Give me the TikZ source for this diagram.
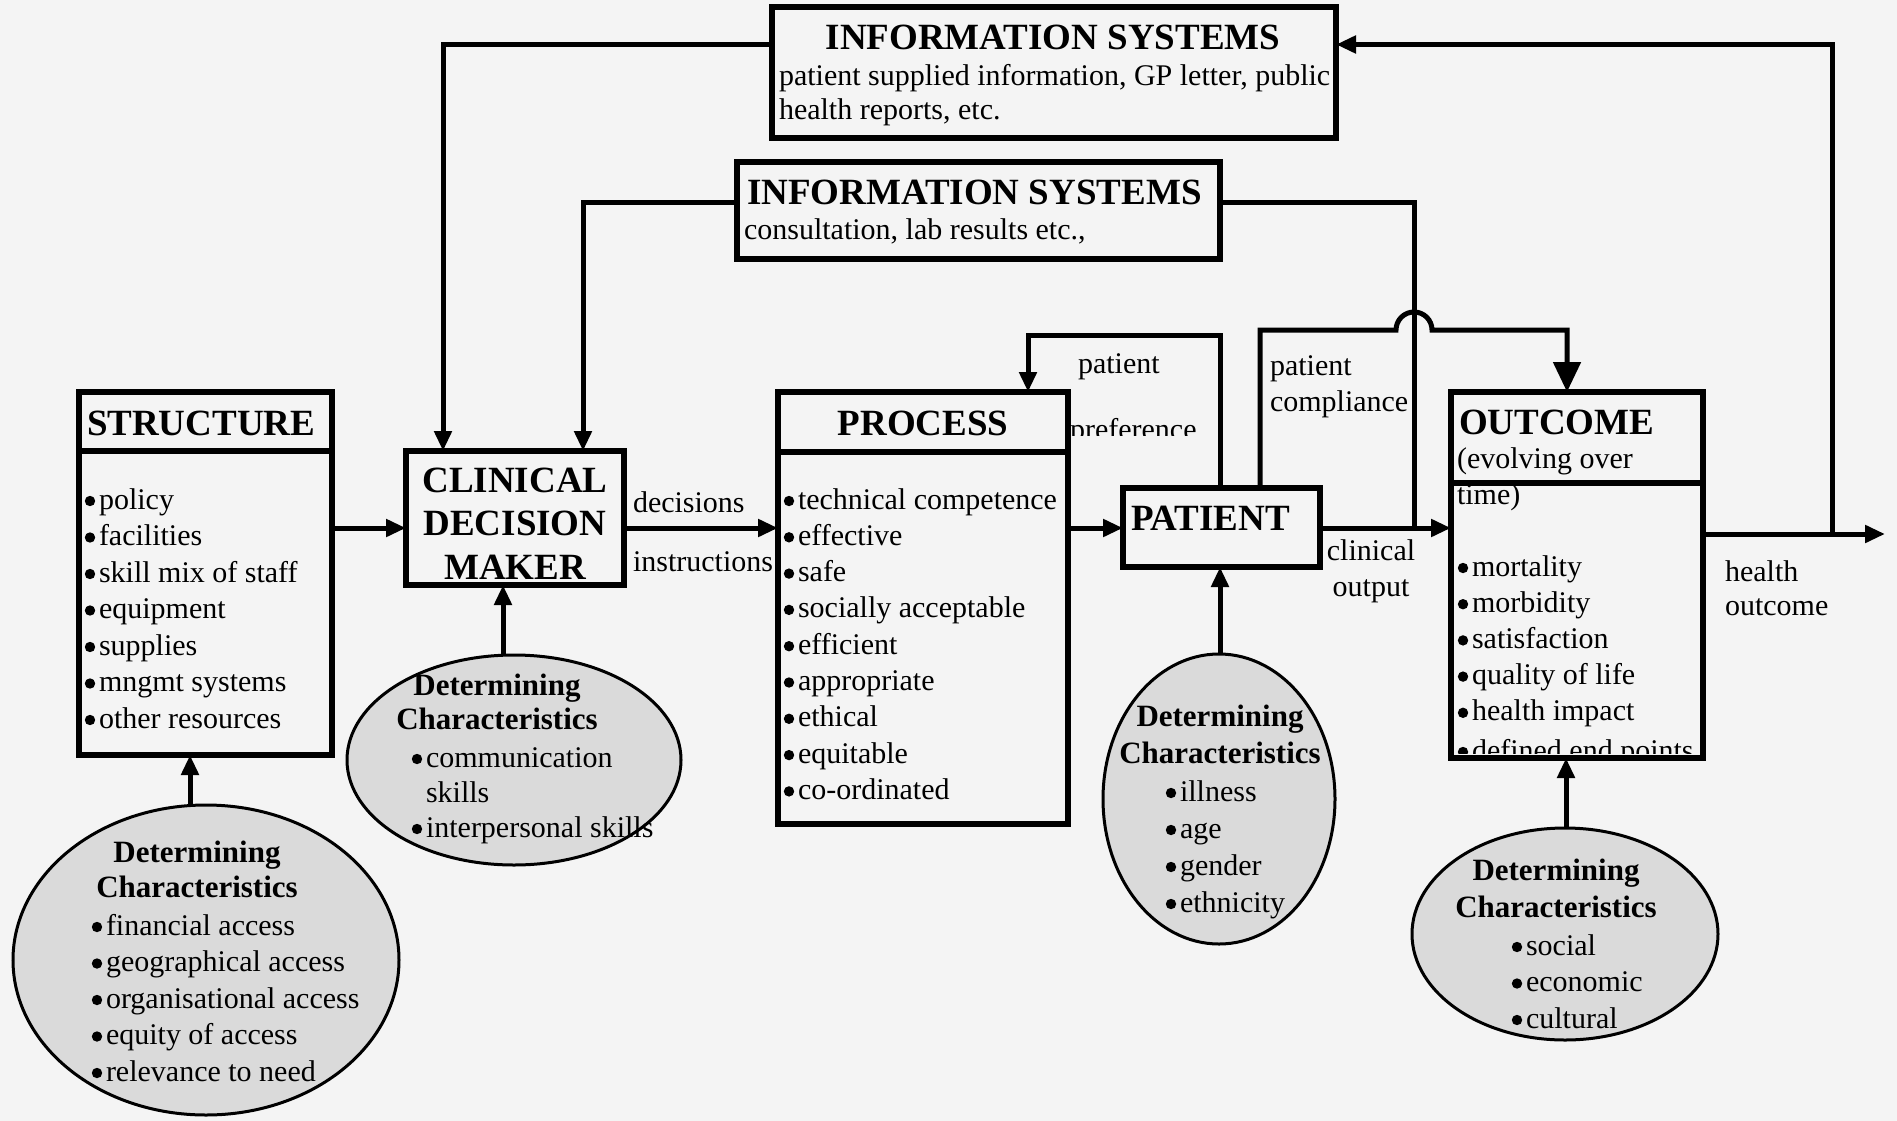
\documentclass[tikz,border=0pt]{standalone}
\usepackage{fontspec}
\setmainfont{Liberation Serif}
\usetikzlibrary{arrows.meta,calc,shapes.geometric}

\definecolor{paper}{RGB}{244,244,244}
\definecolor{shade}{RGB}{218,218,218}

% stacked rows with a fixed baseline distance; the block's baseline is its first row
\newcommand\rowsL[2]{\vtop{\baselineskip=#1\relax\lineskiplimit=-1000pt\lineskip=0pt\halign{##\hfil\cr#2\crcr}}}
\newcommand\rowsC[2]{\vtop{\baselineskip=#1\relax\lineskiplimit=-1000pt\lineskip=0pt\halign{\hfil##\hfil\cr#2\crcr}}}
% a round list bullet, a little larger than the font's own
\newcommand\bul{\tikz[baseline=0pt]{\useasboundingbox (0pt,0pt) rectangle (14pt,1pt); \fill (5pt,8pt) circle[radius=5.2pt];}}

\tikzset{
  box/.style={draw, line width=6pt, rectangle, inner sep=0pt, outer sep=0pt, anchor=north west},
  blob/.style={draw, line width=3pt, ellipse, fill=shade, inner sep=0pt, outer sep=0pt},
  wire/.style={line width=5pt},
  conn/.style={wire, -{Triangle[length=20pt,width=17pt]}},
  bigconn/.style={wire, -{Triangle[length=30pt,width=27pt]}},
  txt/.style={inner sep=0pt, outer sep=0pt, anchor=base west, font=\fontsize{30}{36}\selectfont},
  ctxt/.style={txt, anchor=base},
  head/.style={txt, font=\fontsize{37}{44}\selectfont\bfseries},
  chead/.style={head, anchor=base},
  dhead/.style={txt, anchor=base, font=\fontsize{31}{37}\selectfont\bfseries},
}

\begin{document}
\begin{tikzpicture}[x=1pt, y=-1pt]
  \useasboundingbox (0,0) rectangle (1897,1121);
  \fill[paper] (0,0) rectangle (1897,1121);

  % ---- boxes ----
  \node[box, minimum width=564pt, minimum height=131pt] (info1) at (772,7) {};
  \node[box, minimum width=483pt, minimum height=97pt] (info2) at (737,162) {};
  \node[box, minimum width=253pt, minimum height=363pt] (structure) at (79,392) {};
  \node[box, minimum width=218pt, minimum height=134pt] (cdm) at (406,451) {};
  \node[box, minimum width=290pt, minimum height=432pt] (process) at (778,392) {};
  \node[box, minimum width=197pt, minimum height=79pt] (patient) at (1123,488) {};
  \node[box, minimum width=252pt, minimum height=366pt] (outcome) at (1451,392) {};

  % heading dividers
  \draw[line width=6pt] ([yshift=-59pt]structure.north west) -- ([yshift=-59pt]structure.north east);
  \draw[line width=6pt] ([yshift=-60pt]process.north west) -- ([yshift=-60pt]process.north east);
  \draw[line width=6pt] ([yshift=-91pt]outcome.north west) -- ([yshift=-91pt]outcome.north east);

  % ---- determining characteristics ----
  \node[blob, minimum width=386pt, minimum height=310pt] (e1) at (206,960) {};
  \node[blob, minimum width=334pt, minimum height=210pt] (e2) at (514,760) {};
  \node[blob, minimum width=232pt, minimum height=290pt] (e3) at (1219,799) {};
  \node[blob, minimum width=306pt, minimum height=212pt] (e4) at (1565,934) {};

  % ---- box texts ----
  \node[chead] (info1title) at (1053,50) {INFORMATION SYSTEMS};
  \node[txt] (info1body) at (779,86) {\rowsL{34pt}{patient supplied information, GP letter, public\cr health reports, etc.}};
  \node[head] (info2title) at (747,204) {INFORMATION SYSTEMS};
  \node[txt] (info2body) at (744,239) {consultation, lab results etc.,};

  \node[head] (structuretitle) at (87,435) {STRUCTURE};
  \node[txt] (structureitems) at (85,509) {\rowsL{36.5pt}{\bul policy\cr \bul facilities\cr \bul skill mix of staff\cr \bul equipment\cr \bul supplies\cr \bul mngmt systems\cr \bul other resources}};

  \node[chead] (cdmtitle) at (515,492) {\rowsC{43.5pt}{CLINICAL\cr DECISION\cr MAKER}};

  \node[chead] (processtitle) at (923,435) {PROCESS};
  \node[txt] (processitems) at (784,509) {\rowsL{36.3pt}{\bul technical competence\cr \bul effective\cr \bul safe\cr \bul socially acceptable\cr \bul efficient\cr \bul appropriate\cr \bul ethical\cr \bul equitable\cr \bul co-ordinated}};

  \node[head] (patienttitle) at (1131,530) {PATIENT};

  \node[head] (outcometitle) at (1459,434) {OUTCOME};
  \node[txt] (outcomesub) at (1457,468) {\rowsL{36pt}{(evolving over\cr time)}};
  \node[txt] (outcomeitems) at (1458,576) {\rowsL{36.2pt}{\bul mortality\cr \bul morbidity\cr \bul satisfaction\cr \bul quality of life\cr \bul health impact}};
  \begin{scope}
    \clip (outcome.north west) rectangle ([yshift=5pt]outcome.south east);
    \node[txt] (outcomelast) at (1458,760) {\bul defined end points};
  \end{scope}

  % ---- connector labels ----
  \node[txt] (decisions) at (633,512) {decisions};
  \node[txt] (instructions) at (633,571) {instructions};
  \node[txt] (pref1) at (1078,373) {patient};
  \begin{scope}
    \clip (1068,340) rectangle (1215,435);
    \node[txt] (pref2) at (1070,439) {preference};
  \end{scope}
  \node[txt] (compliance) at (1270,375) {\rowsL{36pt}{patient\cr compliance}};
  \node[ctxt] (clinical) at (1371,560) {\rowsC{36pt}{clinical\cr output}};
  \node[txt] (health) at (1725,581) {\rowsL{34pt}{health\cr outcome}};

  % ---- ellipse texts ----
  \node[dhead] (e1title) at (197,862) {\rowsC{35.5pt}{Determining\cr Characteristics}};
  \node[txt] (e1items) at (92,935) {\rowsL{36.5pt}{\bul financial access\cr \bul geographical access\cr \bul organisational access\cr \bul equity of access\cr \bul relevance to need}};
  \node[dhead] (e2title) at (497,695) {\rowsC{34pt}{Determining\cr Characteristics}};
  \node[txt] (e2items) at (412,767) {\rowsL{35pt}{\bul communication\cr \hspace{14pt}skills\cr \bul interpersonal skills}};
  \node[dhead] (e3title) at (1220,726) {\rowsC{37.5pt}{Determining\cr Characteristics}};
  \node[txt] (e3items) at (1166,801) {\rowsL{37pt}{\bul illness\cr \bul age\cr \bul gender\cr \bul ethnicity}};
  \node[dhead] (e4title) at (1556,880) {\rowsC{37pt}{Determining\cr Characteristics}};
  \node[txt] (e4items) at (1512,955) {\rowsL{36.5pt}{\bul social\cr \bul economic\cr \bul cultural}};

  % ---- connectors ----
  \coordinate (flow) at (0,528);
  \coordinate (outrow) at (0,534);
  \coordinate (hop) at (1414,330);
  \coordinate (exit) at (1885,534);
  \coordinate (ret) at (1832,534);

  \draw[conn] ([yshift=28pt]info1.west) -| ([xshift=-72pt]cdm.north);
  \draw[conn] ([yshift=8.5pt]info2.west) -| ([xshift=68pt]cdm.north);
  \draw[conn] (structure.east |- flow) -- (cdm.west |- flow);
  \draw[conn] (cdm.east |- flow) -- (process.west |- flow);
  \draw[conn] (process.east |- flow) -- (patient.west |- flow);
  \draw[conn] (patient.east |- flow) -- (outcome.west |- flow);
  \draw[conn] (outcome.east |- outrow) -- (exit);
  \draw[conn] (ret) |- ([yshift=28pt]info1.east);
  \draw[wire] ([yshift=8.5pt]info2.east) -| (hop |- flow);
  \draw[conn] ([xshift=-1.5pt]patient.north) -- ++(0,-153) -| ([xshift=105pt]process.north);
  \draw[bigconn] ([xshift=38.5pt]patient.north) |- ([xshift=-18pt]hop)
      arc[start angle=180, end angle=360, radius=18] -| ([xshift=-10pt]outcome.north);

  \draw[conn] ([xshift=-16pt]e1.north) -- ([xshift=-15.5pt]structure.south);
  \draw[conn] ([xshift=-11pt]e2.north) -- ([xshift=-12pt]cdm.south);
  \draw[conn] ([xshift=1pt]e3.north) -- ([xshift=-1.5pt]patient.south);
  \draw[conn] ([xshift=1pt]e4.north) -- ([xshift=-11pt]outcome.south);
\end{tikzpicture}
\end{document}
